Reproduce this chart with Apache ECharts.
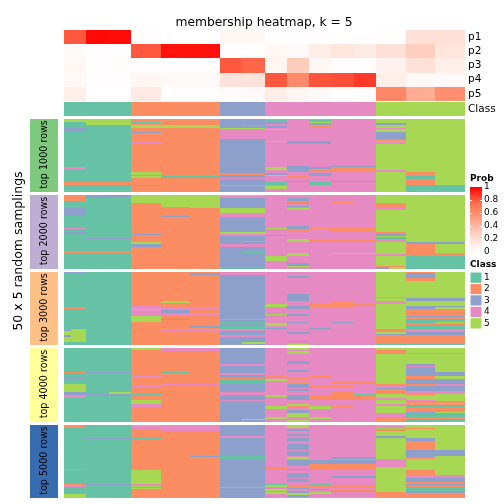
<!DOCTYPE html>
<html><head><meta charset="utf-8">
<script src="https://cdn.jsdelivr.net/npm/echarts@6/dist/echarts.min.js"></script>
<style>html,body{margin:0;padding:0;background:#fff}#c{width:504px;height:504px}</style></head>
<body><div id="c"></div>
<script>
const probNames = ['p1','p2','p3','p4','p5'];
const columnClass = [1,1,1,2,2,2,3,3,4,4,4,4,4,5,5,5];
const classColors = {1:'#66C2A5',2:'#FC8D62',3:'#8DA0CB',4:'#E78AC3',5:'#A6D854'};
const p1 = [.80,.98,.97,.01,0,0,.05,.05,.01,.01,.01,0,0,.01,.19,.19];
const p2 = [.03,.01,.01,.80,.96,.96,.01,.01,.05,.03,.11,.16,.12,.19,.29,.16];
const p3 = [.05,.01,.02,.02,.01,.01,.80,.77,.06,.30,.05,.01,.01,.08,.18,.10];
const p4 = [.04,.01,.01,.06,.03,.03,.17,.17,.80,.62,.81,.82,.87,.10,.04,.03];
const p5 = [.10,0,0,.13,.01,.01,.02,.03,.11,.06,.03,.01,.01,.63,.45,.60];
const groupNames = ['top 1000 rows','top 2000 rows','top 3000 rows','top 4000 rows','top 5000 rows'];
const groupColors = ['#7FC97F','#BEAED4','#FDC086','#FFFF99','#386CB0'];
const probTicks = [0,.2,.4,.6,.8,1];
const rampStops = [[0,'#FFFFFF'],[.25,'#FFD6C9'],[.5,'#FFA285'],[.75,'#FF6E4E'],[1,'#FF0000']];

// each column: runs [fromRow, toRow, class] over the column's own class
const top1000 = [
 [[0,3,5],[9,13,3],[48,51,4],[63,66,2]],
 [[0,6,5],[63,66,2]],
 [[0,6,5],[63,66,2]],
 [[3,4,1],[6,9,5],[13,14,3],[22,25,4],[53,56,5],[57,59,5],[66,67,3]],
 [[6,9,5],[57,59,1]],
 [[6,9,5],[57,59,1]],
 [[9,10,5],[10,20,4],[54,56,2],[59,60,4],[66,67,4]],
 [[0,1,1],[6,7,2],[9,10,5],[10,20,4],[54,56,2],[59,60,4],[66,67,4]],
 [[1,3,1],[3,5,3],[7,9,3],[10,11,5],[22,23,5],[48,51,5],[54,56,3],[56,57,5],[63,66,1],[67,70,5]],
 [[22,25,3],[47,53,3],[57,59,2],[62,63,3]],
 [[1,3,1],[3,4,5],[4,6,3],[7,9,2],[22,25,3],[48,50,3],[50,53,2],[54,57,3],[63,66,1]],
 [[47,48,3],[48,53,2],[62,63,3]],
 [[47,48,3],[48,53,2],[62,63,3]],
 [[4,6,3],[9,10,4],[13,20,3],[20,22,2],[23,25,4],[51,53,4]],
 [[53,57,2],[57,60,1],[60,66,2],[66,73,1]],
 [[66,73,1]]
];
const top2000 = [
 [[0,6,2],[13,21,3],[33,34,4],[37,39,3],[56,58,2]],
 [[0,3,3],[43,44,3],[56,58,2]],
 [[0,2,3],[43,44,3],[56,58,2]],
 [[0,8,5],[39,40,3],[47,49,5],[49,52,3]],
 [[0,12,5],[21,22,3]],
 [[0,13,5]],
 [[0,1,5],[1,3,4],[13,18,5],[18,22,4],[37,39,5],[39,41,4],[49,52,4],[72,74,1]],
 [[0,1,5],[1,3,4],[13,18,5],[18,22,4],[37,39,5],[39,41,4],[46,47,4],[49,52,4],[56,58,1],[72,74,1]],
 [[33,34,5],[40,41,3],[46,47,2],[61,66,5]],
 [[3,6,3],[6,8,2],[8,9,3],[11,12,3],[13,15,5],[31,34,3],[34,37,2],[44,47,5],[58,61,5],[68,71,3],[71,72,5]],
 [[33,34,2],[44,47,2]],
 [[6,8,2],[33,37,2],[44,47,2],[58,59,5]],
 [[33,37,2],[44,47,2],[58,59,5]],
 [[8,9,4],[9,13,2],[13,15,4],[37,39,2],[39,41,3],[42,44,1],[44,47,4],[59,61,4],[71,72,2],[72,74,3,.45]],
 [[47,49,3],[49,61,2],[61,74,1]],
 [[47,49,3],[58,61,2],[61,74,1]]
];
const top3000 = [
 [[0,1,3],[35,37,2],[57,70,5],[57,59,3,.33],[63,65,3,.33]],
 [],
 [],
 [[34,37,4],[37,38,5],[38,44,4],[44,50,5]],
 [[29,31,5],[35,38,4],[38,41,3],[41,44,4],[47,48,3],[57,59,4]],
 [[1,3,3],[35,38,4],[38,41,2],[41,44,4],[54,56,3],[57,59,4]],
 [[0,3,4],[47,48,4],[50,51,1],[54,57,1],[57,59,4],[63,65,4]],
 [[0,3,4],[47,48,4],[50,51,1],[54,57,1],[57,59,4],[63,65,4],[70,72,5]],
 [[32,35,5],[41,42,2],[42,43,5],[51,54,5],[56,57,3]],
 [[4,6,3],[22,29,3],[34,37,3],[42,44,3],[50,51,3],[60,62,3],[69,70,3],[72,73,5]],
 [[32,35,2],[56,57,3]],
 [[29,31,2],[32,35,2],[50,51,3]],
 [[32,34,2]],
 [[25,26,4],[29,32,4],[57,60,2],[62,63,3],[63,72,2],[72,73,1]],
 [[0,1,2],[1,6,3],[6,9,2],[26,29,3],[34,37,3],[37,44,2],[44,45,3],[45,47,2],[47,51,1],[51,53,2],[53,57,1],[57,60,4],[60,63,3],[63,72,2],[72,73,1]],
 [[26,29,3],[34,35,3],[37,44,2],[44,45,3],[45,47,2],[47,50,1],[51,53,2],[53,57,1],[57,60,4],[60,63,3],[63,72,2],[72,73,1]]
];
const top4000 = [
 [[24,25,2],[30,31,3],[36,44,5],[44,47,3],[47,50,4]],
 [[24,25,3],[46,47,3]],
 [[24,25,3],[44,46,5],[46,47,3]],
 [[0,2,5],[28,30,4],[37,40,4],[46,47,1],[52,56,5],[56,59,4]],
 [[0,3,4],[24,25,1],[36,37,4]],
 [[0,3,4],[36,37,4]],
 [[16,18,4],[25,27,4],[30,31,2],[31,36,1],[44,47,4],[52,53,4]],
 [[16,18,4],[25,27,4],[30,31,2],[31,36,1],[44,47,4],[52,53,4],[71,72,5]],
 [[28,30,2],[31,33,5],[47,49,5],[49,50,2],[58,61,5],[69,71,5]],
 [[0,2,5],[3,6,5],[13,16,3],[22,24,3],[30,31,2],[34,36,2],[36,40,3],[41,43,3],[47,52,3],[56,58,5],[58,59,2],[62,65,3],[65,69,5],[72,74,5]],
 [[28,30,2],[38,40,2],[47,52,2],[58,61,5],[69,71,5]],
 [[34,36,2],[38,40,2],[44,52,2],[58,59,2]],
 [[34,36,2],[46,47,1],[47,52,2]],
 [[2,6,2],[36,37,2],[37,40,4],[40,41,3],[41,46,2],[50,52,4],[56,58,4],[65,69,4],[69,74,2]],
 [[5,6,4],[16,18,3],[18,19,4],[19,28,3],[28,31,2],[31,36,3],[36,38,2],[38,43,3],[43,46,4],[46,47,2],[52,53,4],[53,55,2],[56,57,2],[57,59,1],[59,64,2],[64,65,3],[65,69,1],[69,71,2],[71,74,1]],
 [[5,6,4],[24,28,3],[31,36,3],[36,38,4],[38,43,3],[43,46,4],[53,55,2],[56,57,2],[57,59,1],[59,64,2],[65,69,1],[69,71,2],[71,74,1]]
];
const top5000 = [
 [[0,3,2],[44,45,4],[59,60,2],[60,62,4],[69,73,5]],
 [[13,14,3],[59,60,3],[72,73,4]],
 [[13,14,3],[59,60,3]],
 [[0,1,5],[1,4,4],[13,14,1],[45,59,5],[59,61,4],[61,62,5],[63,64,5]],
 [[0,6,4]],
 [[0,6,4],[31,32,3]],
 [[11,13,4],[31,34,1],[62,63,4],[66,67,1]],
 [[11,13,4],[31,34,1],[62,63,4],[66,67,1]],
 [[42,45,2],[59,60,1],[60,62,5],[64,66,5],[67,69,5]],
 [[0,3,5],[4,6,3],[9,11,3],[13,16,3],[19,25,3],[26,31,3],[32,34,5],[35,41,3],[44,45,3],[48,53,3],[54,57,3],[60,63,2],[63,64,3],[66,68,3],[68,70,5],[70,72,3]],
 [[35,39,3],[39,45,2],[59,60,1],[60,63,2],[64,65,3],[67,69,5]],
 [[32,34,3],[35,39,3],[39,45,2],[51,53,3],[60,63,2],[64,66,2],[66,67,3]],
 [[32,34,3],[35,39,3],[39,45,2],[51,53,3],[60,63,2],[64,66,2],[66,67,3]],
 [[1,3,4],[4,6,2],[11,13,3],[34,42,4],[67,73,2]],
 [[3,4,2],[13,16,3],[16,25,2],[25,32,3],[32,34,2],[45,50,2],[50,53,4],[53,57,3],[57,59,2],[59,60,3],[60,62,2],[62,67,1],[67,68,3],[68,69,4],[69,73,2]],
 [[25,31,3],[50,53,4],[53,57,3],[57,59,2],[59,60,3],[60,62,2],[62,67,1],[67,68,3],[68,69,4],[69,73,2]]
];
const panels = [top1000, top2000, top3000, top4000, top5000];
const panelRows = [73,74,73,74,73];
const panelTops = [119,195,272,348,425];

const colUnits = columnClass.map(c => (c===2||c===5) ? 4/3 : 1);
const colEdges = [0]; colUnits.forEach(u => colEdges.push(colEdges[colEdges.length-1]+u));
const totalUnits = colEdges[colEdges.length-1];

function hex(c){return [1,3,5].map(i=>parseInt(c.substr(i,2),16));}
function ramp(v){
  for(let i=1;i<rampStops.length;i++){
    if(v<=rampStops[i][0]){
      const a=rampStops[i-1],b=rampStops[i],t=(v-a[0])/(b[0]-a[0]);
      const A=hex(a[1]),B=hex(b[1]);
      return 'rgb('+A.map((x,k)=>Math.round(x+(B[k]-x)*t)).join(',')+')';
    }
  }
  return rampStops[rampStops.length-1][1];
}
const rectRender = (params, api) => {
  const a = api.coord([api.value(0), api.value(2)]);
  const b = api.coord([api.value(1), api.value(3)]);
  return {type:'rect', shape:{x:Math.round(a[0]),y:Math.round(a[1]),
    width:Math.round(b[0])-Math.round(a[0]),height:Math.round(b[1])-Math.round(a[1])},
    style:{fill:classColors[api.value(4)]}, silent:true};
};
const grids=[],xAxes=[],yAxes=[],series=[];
const hiddenX = () => ({type:'value',min:0,max:totalUnits,show:false});
const labelFont='DejaVu Sans';

// membership cells
const probs=[p1,p2,p3,p4,p5];
grids.push({left:64,top:30,width:401,height:71});
xAxes.push(Object.assign(hiddenX(),{gridIndex:0}));
yAxes.push({gridIndex:0,type:'category',data:probNames,inverse:true,position:'right',
  axisLine:{show:false},axisTick:{show:false},
  axisLabel:{show:true,interval:0,margin:3,fontFamily:labelFont,fontSize:10.5,color:'#000'}});
const probData=[];
probs.forEach((row,r)=>row.forEach((v,c)=>probData.push([colEdges[c],colEdges[c+1],r,v])));
series.push({type:'custom',xAxisIndex:0,yAxisIndex:0,data:probData,silent:true,animation:false,
  renderItem:(p,api)=>{
    const a=api.coord([api.value(0),api.value(2)]),b=api.coord([api.value(1),api.value(2)]);
    const h=api.size([0,1])[1];
    return {type:'rect',shape:{x:Math.round(a[0]),y:Math.round(a[1]-h/2),width:Math.round(b[0])-Math.round(a[0]),height:Math.round(a[1]+h/2)-Math.round(a[1]-h/2)},style:{fill:ramp(api.value(3))}};
  }});
// class row
grids.push({left:64,top:102,width:401,height:14});
xAxes.push(Object.assign(hiddenX(),{gridIndex:1}));
yAxes.push({gridIndex:1,type:'category',data:['Class'],position:'right',
  axisLine:{show:false},axisTick:{show:false},
  axisLabel:{show:true,interval:0,margin:3,fontFamily:labelFont,fontSize:10.5,color:'#000'}});
series.push({type:'custom',xAxisIndex:1,yAxisIndex:1,silent:true,animation:false,
  data:columnClass.map((k,c)=>[colEdges[c],colEdges[c+1],k]),
  renderItem:(p,api)=>{
    const a=api.coord([api.value(0),0]),b=api.coord([api.value(1),0]);
    const h=api.size([0,1])[1];
    return {type:'rect',shape:{x:Math.round(a[0]),y:Math.round(a[1]-h/2),width:Math.round(b[0])-Math.round(a[0]),height:h},style:{fill:classColors[api.value(2)]}};
  }});
// sampling panels
panels.forEach((panel,i)=>{
  const g=grids.length;
  grids.push({left:64,top:panelTops[i],width:401,height:panelRows[i]});
  xAxes.push(Object.assign(hiddenX(),{gridIndex:g}));
  yAxes.push({gridIndex:g,type:'value',min:0,max:panelRows[i],inverse:true,show:false});
  const data=[];
  panel.forEach((runs,c)=>{
    data.push([colEdges[c],colEdges[c+1],0,panelRows[i],columnClass[c]]);
    runs.forEach(r=>{
      const end = r[3]? colEdges[c]+colUnits[c]*r[3] : colEdges[c+1];
      data.push([colEdges[c],end,r[0],r[1],r[2]]);
    });
  });
  series.push({type:'custom',xAxisIndex:g,yAxisIndex:g,data,renderItem:rectRender,silent:true,animation:false,clip:true});
  // group annotation
  const h=grids.length;
  grids.push({left:30,top:panelTops[i],width:28,height:panelRows[i]});
  xAxes.push({gridIndex:h,type:'category',data:[groupNames[i]],show:false});
  yAxes.push({gridIndex:h,type:'value',min:0,max:1,show:false});
  series.push({type:'bar',xAxisIndex:h,yAxisIndex:h,data:[1],barWidth:'100%',silent:true,animation:false,
    itemStyle:{color:groupColors[i]},
    label:{show:true,position:'inside',rotate:90,offset:[1,0],formatter:groupNames[i],align:'center',verticalAlign:'middle',
      fontFamily:labelFont,fontSize:9.6,color:'#000'}});
});

// legends
const gfx=[];
const lx=470, ly=187, lh=65, lw=12;
gfx.push({type:'text',left:lx,top:174,style:{text:'Prob',font:'bold 9px "DejaVu Sans"',fill:'#000'}});
gfx.push({type:'rect',shape:{x:lx,y:ly,width:lw,height:lh},style:{fill:{type:'linear',x:0,y:1,x2:0,y2:0,
  colorStops:rampStops.map(s=>({offset:s[0],color:s[1]}))}}});
probTicks.forEach(t=>{
  const y=ly+lh-t*lh;
  if(t>0&&t<1){
    gfx.push({type:'rect',shape:{x:lx,y:Math.round(y),width:2,height:1},style:{fill:'#fff'}});
    gfx.push({type:'rect',shape:{x:lx+lw-2,y:Math.round(y),width:2,height:1},style:{fill:'#fff'}});
  }
  gfx.push({type:'text',x:lx+lw+2,y:y,style:{text:String(t),font:'9px "DejaVu Sans"',fill:'#000',textVerticalAlign:'middle'}});
});
gfx.push({type:'text',left:lx,top:260,style:{text:'Class',font:'bold 9px "DejaVu Sans"',fill:'#000'}});
[1,2,3,4,5].forEach((k,i)=>{
  gfx.push({type:'rect',shape:{x:lx,y:272+i*11.4,width:lw,height:11.4},style:{fill:classColors[k],stroke:'#fff',lineWidth:1}});
  gfx.push({type:'text',x:lx+lw+2,y:272+i*11.4+5.7,style:{text:String(k),font:'9px "DejaVu Sans"',fill:'#000',textVerticalAlign:'middle'}});
});

const chart=echarts.init(document.getElementById('c'),null,{renderer:'canvas'});
chart.setOption({animation:false,backgroundColor:'#fff',
  title:[{text:'membership heatmap, k = 5',left:259,top:12,textAlign:'center',
     textStyle:{fontFamily:labelFont,fontSize:12.3,fontWeight:'normal',color:'#000'}}],
  grid:grids,xAxis:xAxes,yAxis:yAxes,series,
  graphic:gfx.concat([{type:'text',x:19,y:251,rotation:Math.PI/2,
    style:{text:'50 x 5 random samplings',font:'12.5px "DejaVu Sans"',fill:'#000',textAlign:'center',textVerticalAlign:'middle'}}])
});
</script></body></html>
